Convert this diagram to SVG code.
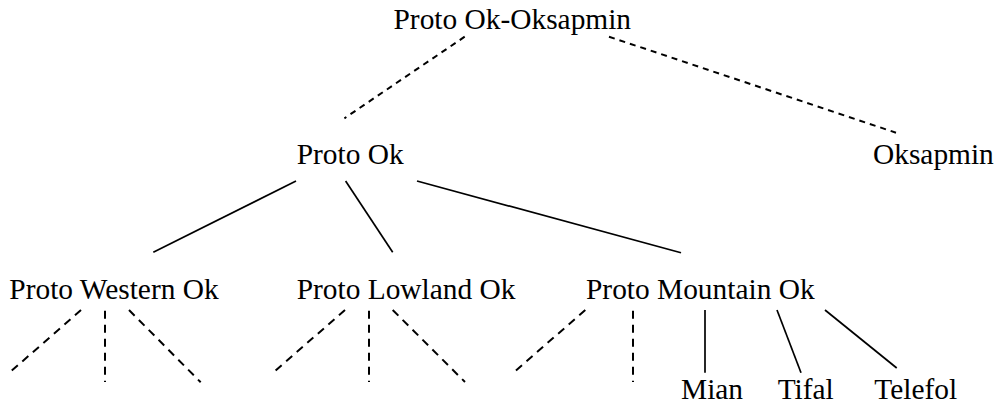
<svg xmlns="http://www.w3.org/2000/svg" width="998" height="408" viewBox="0 0 998 408">
<style>
text{font-family:"Liberation Serif","Times New Roman",serif;font-size:29.4px;fill:#000}
.s{stroke:#000;stroke-width:1.7;fill:none}
.d1{stroke:#000;stroke-width:2;fill:none;stroke-dasharray:6 5}
.d2{stroke:#000;stroke-width:2;fill:none;stroke-dasharray:8 6}
</style>
<rect width="998" height="408" fill="#fff"/>
<g id="connectors">
<line class="d1" x1="464.7" y1="36.7" x2="344.4" y2="118.3"/>
<line class="d1" x1="609" y1="36.7" x2="896" y2="132.7"/>
<line class="s" x1="296" y1="181" x2="153.3" y2="252.3"/>
<line class="s" x1="345.6" y1="181" x2="392.7" y2="252.3"/>
<line class="s" x1="417" y1="181" x2="681" y2="252.7"/>
<line class="d2" x1="81" y1="310" x2="11.7" y2="370.7"/>
<line class="d2" x1="105" y1="310.7" x2="105" y2="382"/>
<line class="d2" x1="129" y1="310" x2="200.7" y2="382.3"/>
<line class="d2" x1="345" y1="310" x2="275.3" y2="370.7"/>
<line class="d2" x1="369" y1="310.7" x2="369" y2="382"/>
<line class="d2" x1="392.7" y1="310" x2="465" y2="382"/>
<line class="d2" x1="585.3" y1="310" x2="515.7" y2="370.7"/>
<line class="d2" x1="633" y1="310.7" x2="633" y2="382"/>
<line class="s" x1="705" y1="310" x2="705" y2="372.7"/>
<line class="s" x1="777" y1="310" x2="801" y2="372.7"/>
<line class="s" x1="825" y1="310" x2="896.7" y2="368"/>
</g>
<g id="proto-ok-oksapmin"><text x="393.5" y="29.3">Proto Ok-Oksapmin</text></g>
<g id="proto-ok"><text x="296.7" y="164.3">Proto Ok</text></g>
<g id="oksapmin"><text x="873" y="164.3">Oksapmin</text></g>
<g id="proto-western-ok"><text x="9.3" y="298.7">Proto Western Ok</text></g>
<g id="proto-lowland-ok"><text x="296.7" y="298.7">Proto Lowland Ok</text></g>
<g id="proto-mountain-ok"><text x="586" y="298.7">Proto Mountain Ok</text></g>
<g id="mian"><text x="681" y="399.3">Mian</text></g>
<g id="tifal"><text x="777.7" y="399.3">Tifal</text></g>
<g id="telefol"><text x="874.3" y="399.3">Telefol</text></g>
</svg>
